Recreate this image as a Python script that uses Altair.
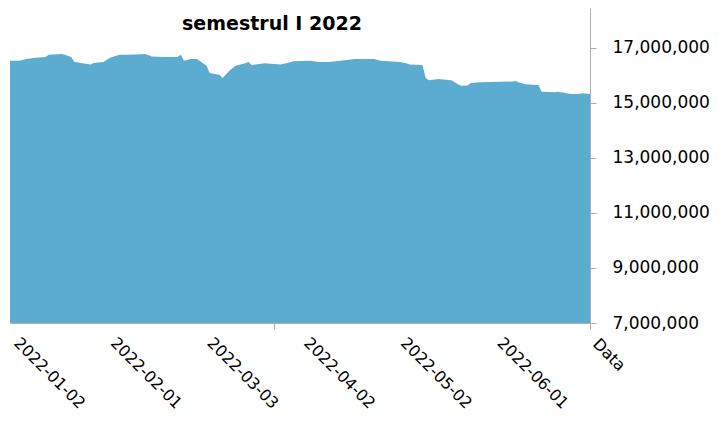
import altair as alt
import pandas as pd

dates = [
    "2022-01-02", "2022-01-05", "2022-01-07", "2022-01-10", "2022-01-13", "2022-01-14",
    "2022-01-18", "2022-01-19", "2022-01-21", "2022-01-22", "2022-01-24", "2022-01-27",
    "2022-01-28", "2022-01-31", "2022-02-02", "2022-02-05", "2022-02-08", "2022-02-13",
    "2022-02-15", "2022-02-19", "2022-02-23", "2022-02-24", "2022-02-25", "2022-02-27",
    "2022-03-01", "2022-03-04", "2022-03-05", "2022-03-07", "2022-03-08", "2022-03-09",
    "2022-03-11", "2022-03-13", "2022-03-16", "2022-03-17", "2022-03-18", "2022-03-22",
    "2022-03-27", "2022-03-29", "2022-03-31", "2022-04-05", "2022-04-08", "2022-04-11",
    "2022-04-16", "2022-04-19", "2022-04-25", "2022-04-27", "2022-05-03", "2022-05-05",
    "2022-05-06", "2022-05-10", "2022-05-11", "2022-05-12", "2022-05-15", "2022-05-19",
    "2022-05-21", "2022-05-22", "2022-05-24", "2022-05-25", "2022-05-28", "2022-06-07",
    "2022-06-08", "2022-06-09", "2022-06-11", "2022-06-14", "2022-06-15", "2022-06-16",
    "2022-06-20", "2022-06-21", "2022-06-23", "2022-06-25", "2022-06-27", "2022-06-29",
    "2022-07-01",
]
values = [
    16530000, 16530000, 16600000, 16640000, 16670000, 16750000,
    16780000, 16750000, 16670000, 16490000, 16450000, 16400000,
    16450000, 16490000, 16640000, 16750000, 16750000, 16780000,
    16690000, 16670000, 16670000, 16750000, 16530000, 16600000,
    16600000, 16350000, 16090000, 16040000, 16020000, 15910000,
    16160000, 16350000, 16440000, 16490000, 16380000, 16440000,
    16400000, 16450000, 16510000, 16530000, 16490000, 16490000,
    16550000, 16600000, 16600000, 16530000, 16490000, 16440000,
    16400000, 16380000, 15910000, 15820000, 15870000, 15820000,
    15680000, 15620000, 15630000, 15720000, 15750000, 15780000,
    15800000, 15740000, 15680000, 15650000, 15650000, 15410000,
    15390000, 15410000, 15370000, 15320000, 15320000, 15350000,
    15320000,
]
y_ticks = [7000000, 9000000, 11000000, 13000000, 15000000, 17000000]
title_text = "semestrul I 2022"
x_title = "Data"

df = pd.DataFrame({"Data": [d + "T00:00" for d in dates], "Valoare": values})

x_values = [
    alt.DateTime(year=2022, month=1, date=2),
    alt.DateTime(year=2022, month=2, date=1),
    alt.DateTime(year=2022, month=3, date=3),
    alt.DateTime(year=2022, month=4, date=2),
    alt.DateTime(year=2022, month=5, date=2),
    alt.DateTime(year=2022, month=6, date=1),
    alt.DateTime(year=2022, month=3, date=25),
    alt.DateTime(year=2022, month=7, date=1),
]
tick_test = "(month(datum.value) == 2 && date(datum.value) == 25) || month(datum.value) == 6"

GRAY = "#ADADAD"
FONT = "DejaVu Sans"

base = alt.Chart(df)

area = base.mark_area(color="#5BACD0", opacity=1, clip=True).encode(
    x=alt.X(
        "Data:T",
        scale=alt.Scale(
            domain=[alt.DateTime(year=2022, month=1, date=2), alt.DateTime(year=2022, month=7, date=1)],
            nice=False,
        ),
        axis=alt.Axis(
            title=x_title,
            titleFont=FONT,
            titleFontSize=16,
            titleFontWeight="normal",
            titleColor="black",
            titleAngle=45,
            titleAlign="left",
            titleBaseline="middle",
            titleX=585,
            titleY=18,
            values=x_values,
            format="%Y-%m-%d",
            labelExpr="(" + tick_test + ") ? '' : datum.label",
            labelAngle=45,
            labelAlign="left",
            labelBaseline="middle",
            labelFont=FONT,
            labelFontSize=16,
            labelColor="black",
            labelPadding=11,
            labelOffset=6,
            labelOverlap=False,
            labelFlush=False,
            tickSize=6,
            tickColor={"condition": {"test": tick_test, "value": GRAY}, "value": "transparent"},
            domainColor=GRAY,
            grid=False,
        ),
    ),
    y=alt.Y(
        "Valoare:Q",
        scale=alt.Scale(domain=[7000000, 18450000], nice=False, zero=False),
        axis=alt.Axis(
            orient="right",
            title=None,
            values=y_ticks,
            format=",.0f",
            labelFont=FONT,
            labelFontSize=17,
            labelColor="black",
            labelPadding=16,
            labelBaseline="middle",
            tickSize=6,
            tickColor=GRAY,
            domainColor=GRAY,
            grid=False,
        ),
    ),
    y2=alt.Y2(datum=7000000),
)

title = alt.Chart(pd.DataFrame({"t": [title_text]})).mark_text(
    font=FONT, fontSize=19, fontWeight="bold", color="black", align="center", baseline="alphabetic"
).encode(text="t:N", x=alt.value(262), y=alt.value(22))

chart = (
    alt.layer(area, title)
    .properties(
        width=580,
        height=315,
        background="white",
        autosize=alt.AutoSizeParams(type="none"),
        padding={"left": 2, "top": 0, "right": 120, "bottom": 90},
    )
    .configure_view(stroke=None)
)

chart.save("out.html", embed_options={"renderer": "svg", "actions": False})
